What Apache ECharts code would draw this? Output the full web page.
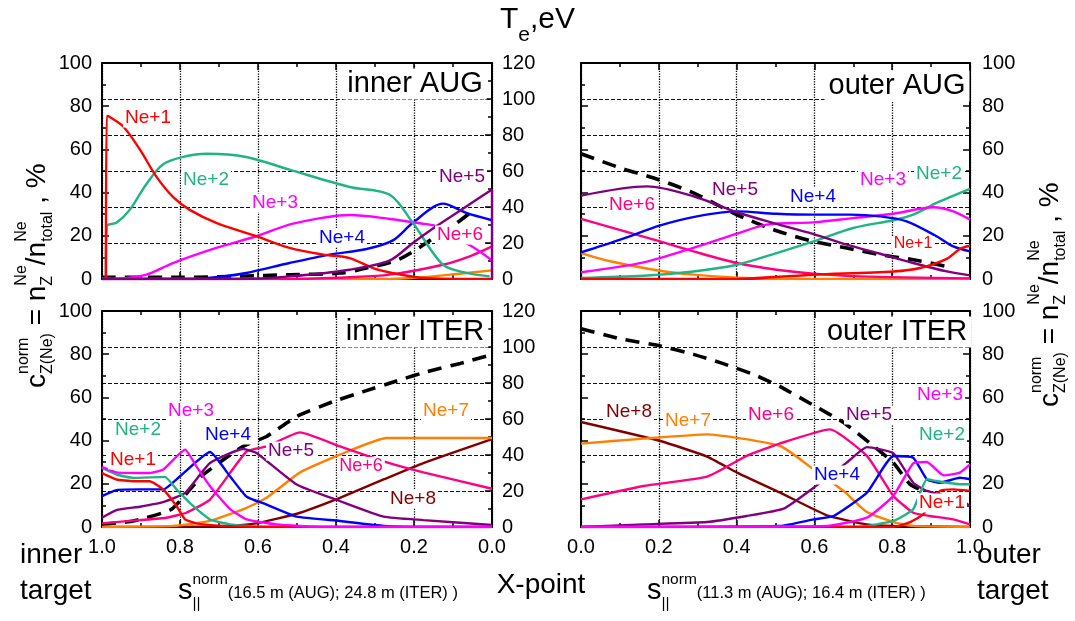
<!DOCTYPE html>
<html><head><meta charset="utf-8">
<script src="https://cdn.jsdelivr.net/npm/echarts@6/dist/echarts.min.js"></script>
<style>html,body{margin:0;padding:0;background:#fff}#c{width:1075px;height:621px}</style>
</head><body><div id="c"></div>
<script>
// ---------------- DATA (s_norm, value) ----------------
// inner AUG  (c in %, Te in eV)
const IA_NE1 = [[0.99,0],[0.988,75.5],[0.98,75],[0.946,70.7],[0.903,60],[0.861,47.5],[0.818,38],[0.775,32],[0.707,26],[0.604,19.8],[0.519,14.4],[0.433,11.3],[0.365,9.7],[0.305,5],[0.262,3],[0.177,0.5],[0,0]];
const IA_NE2 = [[0.99,0],[0.988,24.4],[0.963,26],[0.929,32],[0.886,44],[0.844,53],[0.792,56.5],[0.732,58],[0.63,56.5],[0.519,50.6],[0.365,42.6],[0.262,39],[0.203,26],[0.126,6.6],[0.066,2.8],[0.006,1.2]];
const IA_NE3 = [[1,0],[0.946,0.3],[0.886,2],[0.818,7.4],[0.707,14.4],[0.604,19.8],[0.51,25.6],[0.365,29.6],[0.262,27.8],[0.177,25.6],[0.143,24.4],[0.049,14.8],[0,8.6]];
const IA_NE4 = [[1,0],[0.775,0],[0.69,1.2],[0.63,2.8],[0.519,7.4],[0.416,11.3],[0.322,13.9],[0.254,17.9],[0.203,26],[0.126,34.9],[0.066,30.6],[0,27.2]];
const IA_NE5 = [[1,0],[0.647,0],[0.519,1.2],[0.365,4.3],[0.262,8.6],[0.203,16.7],[0.143,24.4],[0.091,30.6],[0,41.4],[0,0]];
const IA_NE6 = [[1,0],[0.519,0],[0.365,0.8],[0.262,2],[0.126,6.6],[0.057,10.5],[0,15.1]];
const IA_NE7 = [[1,0],[0.262,0],[0.177,0.8],[0.091,2.3],[0,4]];
const IA_TE  = [[1,0.9],[0.8,0.9],[0.647,1.5],[0.519,2.4],[0.39,3.3],[0.322,6.1],[0.237,11.1],[0.143,23.7],[0.091,31],[0.049,38]];
// outer AUG
const OA_NE1 = [[0,0],[0.375,0],[0.598,2],[0.803,3.5],[0.872,5.1],[0.94,9.3],[0.974,13.9],[1,15.4]];
const OA_NE2 = [[0,0.5],[0.161,1.5],[0.289,3.5],[0.401,6.6],[0.503,12],[0.598,17.4],[0.7,23.6],[0.803,27.2],[0.854,29.8],[0.914,35.2],[1,41.7]];
const OA_NE3 = [[0,3.1],[0.161,7.7],[0.289,14.4],[0.401,21],[0.478,25.2],[0.598,26.2],[0.7,28.2],[0.803,30.2],[0.906,33.2],[0.957,31.3],[1,27.5]];
const OA_NE4 = [[0,12.3],[0.101,18.2],[0.204,24.8],[0.298,29],[0.401,31.3],[0.503,30.2],[0.598,29.8],[0.692,29.8],[0.769,29],[0.837,26.7],[0.914,19.8],[0.957,15.1],[1,12.8]];
const OA_NE5 = [[0,38.6],[0.17,42.9],[0.289,38.3],[0.401,30.9],[0.495,25.9],[0.598,20.8],[0.683,15.9],[0.769,11.7],[0.854,7.4],[0.94,3.5],[1,1.7]];
const OA_NE6 = [[0,27.8],[0.187,18.2],[0.289,12.8],[0.401,7.4],[0.503,4.3],[0.598,2.5],[0.717,1.2],[1,0.3]];
const OA_NE7 = [[0,12],[0.075,8.2],[0.187,4.3],[0.289,2],[0.401,0.6],[0.546,0],[1,0]];
const OA_TE  = [[0,69.6],[0.101,61.7],[0.187,56.1],[0.289,47.8],[0.401,35.7],[0.495,27.4],[0.598,20.9],[0.683,17.2],[0.769,13.5],[0.854,10.7],[0.94,7]];
// inner ITER
const II_NE1 = [[1,25],[0.989,24],[0.963,22],[0.92,21.2],[0.878,21.2],[0.843,17.4],[0.809,9.7],[0.787,3.5],[0.758,1.7],[0.689,0.5],[0.604,0],[0,0]];
const II_NE2 = [[1,27.3],[0.963,24.3],[0.92,22.7],[0.839,23.2],[0.809,17.4],[0.775,11.2],[0.723,3.5],[0.672,1.2],[0.604,0.2],[0,0]];
const II_NE3 = [[1,27.8],[0.963,25.3],[0.878,25],[0.843,26.6],[0.787,35.8],[0.758,28.1],[0.723,18.9],[0.672,8.4],[0.629,3.5],[0.552,1.2],[0.432,0],[0,0]];
const II_NE4 = [[1,14.3],[0.963,17.1],[0.903,17.4],[0.843,17.4],[0.8,23.5],[0.723,34.7],[0.672,23.5],[0.629,14],[0.578,10.4],[0.501,4.8],[0.39,2.8],[0.278,0.5],[0.176,0],[0,0]];
const II_NE5 = [[1,4.3],[0.963,7.8],[0.903,9.4],[0.843,11.5],[0.787,15.8],[0.723,29.6],[0.638,36.1],[0.604,34.3],[0.501,19.7],[0.39,12],[0.278,4.8],[0.176,3.2],[0,0.9]];
const II_NE6 = [[1,1.7],[0.903,3.2],[0.835,4.3],[0.784,6.6],[0.723,12.7],[0.629,35],[0.578,37.3],[0.492,43.8],[0.39,37.3],[0.278,30.4],[0.176,25.3],[0,17.7]];
const II_NE7 = [[1,0],[0.818,0.5],[0.723,2.8],[0.629,8.9],[0.578,13.5],[0.492,25.3],[0.39,33.5],[0.27,41.2],[0,41.2]];
const II_NE8 = [[1,0],[0.689,0.2],[0.604,1.7],[0.492,6.6],[0.39,13.5],[0.278,22],[0.176,29.6],[0,40.7]];
const II_TE  = [[1,1.5],[0.92,3.3],[0.822,9.8],[0.745,28.2],[0.689,37.4],[0.638,44.8],[0.578,50.3],[0.501,61.4],[0.407,69.7],[0.33,75.2],[0.245,81.1],[0.167,86.3],[0.081,90.9],[0.004,95.5]];
// outer ITER
const OI_NE1 = [[0,0],[0.803,0],[0.846,2.3],[0.88,5.9],[0.923,16.7],[0.957,17.4],[1,16.7]];
const OI_NE2 = [[0,0],[0.717,0.2],[0.803,2.8],[0.854,8.2],[0.889,22.1],[0.914,21.3],[0.974,19.8],[1,19.8]];
const OI_NE3 = [[0,0],[0.632,0.5],[0.735,4.3],[0.803,14.4],[0.854,29.5],[0.889,30.1],[0.932,23.9],[0.974,25.2],[1,29]];
const OI_NE4 = [[0,0],[0.512,0.5],[0.598,3.5],[0.649,5.1],[0.735,15.9],[0.803,32.9],[0.854,32.1],[0.889,22.1],[0.923,20.5],[0.974,22.8],[1,22.1]];
const OI_NE5 = [[0,0],[0.161,1.2],[0.324,2.3],[0.426,5.1],[0.521,8.5],[0.598,18.2],[0.683,29.8],[0.735,37],[0.803,34.1],[0.854,20.5],[0.889,16.7],[0.974,12.8],[1,9.7]];
const OI_NE6 = [[0,12.8],[0.161,19],[0.324,23.3],[0.426,32.9],[0.512,38.7],[0.64,45.2],[0.735,32.9],[0.803,14.4],[0.854,6.6],[0.897,5.1],[0.957,3.5],[1,1.2]];
const OI_NE7 = [[0,38.6],[0.161,40.9],[0.324,42.9],[0.512,37.5],[0.598,26.7],[0.675,16.7],[0.735,6.9],[0.803,2.3],[0.854,0.5],[1,0]];
const OI_NE8 = [[0,48.6],[0.204,39.8],[0.324,32.6],[0.401,25.2],[0.512,15.9],[0.632,5.4],[0.735,1.2],[0.803,0.5],[1,0]];
const OI_TE  = [[0,110.2],[0.101,104.6],[0.204,100.6],[0.289,95.9],[0.358,91.3],[0.443,84.8],[0.512,78],[0.598,67.6],[0.675,58],[0.752,45],[0.803,35.7],[0.846,23.7],[0.88,20]];

const X_TICK_LABELS_FMT = 1; // decimals
const PANEL_NAMES = ['inner AUG','outer AUG','inner ITER','outer ITER'];

// ---------------- STYLE / LAYOUT ----------------
const FONT = '"Liberation Sans", Arial, sans-serif';
const COL = {ne1:'#ff0000', ne2:'#1fb386', ne3:'#ff00ff', ne4:'#0000ff', ne5:'#800080', ne6:'#ff0080', ne7:'#ff8000', ne8:'#800000'};
const GRIDS = [
  {left:102, top:63, width:390, height:216},
  {left:581, top:63, width:389, height:216},
  {left:102, top:311, width:390, height:216},
  {left:581, top:311, width:389, height:216}];
const INNER = [true,false,true,false];

const xAxis = [], yAxis = [], series = [];
const cIdx = [], teIdx = [];
const lineAx = {show:true, onZero:false, lineStyle:{color:'#000', width:2}};
const tick = {show:true, inside:true, length:7, lineStyle:{color:'#000', width:1.5}};
const minor = {show:true, splitNumber:2, length:4, lineStyle:{color:'#000', width:1.5}};
const lab = (show, m) => ({show, color:'#000', fontSize:20, fontFamily:FONT, margin:m});
const hSplit = {show:true, lineStyle:{color:'#111', width:1, type:[4,2]}};

GRIDS.forEach((g, i) => {
  xAxis.push({gridIndex:i, type:'value', min:0, max:1, interval:0.2, inverse:INNER[i], position:'bottom',
    axisLine:lineAx, axisTick:tick, minorTick:minor,
    axisLabel:Object.assign(lab(i>=2, 10), {formatter:v=>v.toFixed(X_TICK_LABELS_FMT)}),
    splitLine:{show:true, lineStyle:{color:'#000', width:1.3, type:'dotted'}}});
  xAxis.push({gridIndex:i, type:'value', min:0, max:1, interval:0.2, inverse:INNER[i], position:'top',
    axisLine:lineAx, axisTick:tick, minorTick:minor, axisLabel:{show:false}, splitLine:{show:false}});
  cIdx[i] = yAxis.length;
  yAxis.push({gridIndex:i, type:'value', min:0, max:100, interval:20, position:'left',
    axisLine:lineAx, axisTick:tick, minorTick:minor, axisLabel:lab(INNER[i], 10), splitLine:{show:false}});
  if (INNER[i]) {
    teIdx[i] = yAxis.length;
    yAxis.push({gridIndex:i, type:'value', min:0, max:120, interval:20, position:'right',
      axisLine:lineAx, axisTick:tick, minorTick:minor, axisLabel:lab(true, 10), splitLine:hSplit});
  } else {
    yAxis.push({gridIndex:i, type:'value', min:0, max:100, interval:20, position:'right',
      axisLine:lineAx, axisTick:tick, minorTick:minor, axisLabel:lab(true, 12), splitLine:{show:false}});
    teIdx[i] = yAxis.length;
    yAxis.push({gridIndex:i, type:'value', min:0, max:120, interval:20, position:'right',
      axisLine:{show:false}, axisTick:{show:false}, axisLabel:{show:false}, splitLine:hSplit});
  }
});

function addPanel(i, te, list, sm) {
  series.push({type:'line', data:te, xAxisIndex:2*i, yAxisIndex:teIdx[i], showSymbol:false, smooth:sm,
    lineStyle:{color:'#000', width:3.6, type:[14,9]}, z:2});
  list.forEach(([d, c]) => series.push({type:'line', data:d, xAxisIndex:2*i, yAxisIndex:cIdx[i], showSymbol:false,
    smooth:sm, lineStyle:{color:c, width:2.4}, z:3}));
}
addPanel(0, IA_TE, [[IA_NE7,COL.ne7],[IA_NE6,COL.ne6],[IA_NE4,COL.ne4],[IA_NE3,COL.ne3],[IA_NE2,COL.ne2],[IA_NE1,COL.ne1],[IA_NE5,COL.ne5]], 0.3);
addPanel(1, OA_TE, [[OA_NE7,COL.ne7],[OA_NE6,COL.ne6],[OA_NE2,COL.ne2],[OA_NE3,COL.ne3],[OA_NE4,COL.ne4],[OA_NE5,COL.ne5],[OA_NE1,COL.ne1]], 0.3);
addPanel(2, II_TE, [[II_NE8,COL.ne8],[II_NE7,COL.ne7],[II_NE6,COL.ne6],[II_NE5,COL.ne5],[II_NE4,COL.ne4],[II_NE2,COL.ne2],[II_NE1,COL.ne1],[II_NE3,COL.ne3]], 0.15);
addPanel(3, OI_TE, [[OI_NE8,COL.ne8],[OI_NE7,COL.ne7],[OI_NE6,COL.ne6],[OI_NE5,COL.ne5],[OI_NE4,COL.ne4],[OI_NE2,COL.ne2],[OI_NE1,COL.ne1],[OI_NE3,COL.ne3]], 0.15);

// ---------------- TEXT ----------------
const cv = document.createElement('canvas').getContext('2d');
function measure(t, s) { cv.font = s + 'px ' + FONT; return cv.measureText(t).width; }
function txt(p, x) {
  return {type:'text', x:x, y:(p.b||0) - 0.35*p.s, z:60,
    style:{text:p.t, font:p.s + 'px ' + FONT, fill:'#000', align:'left', verticalAlign:'middle'}};
}
function formula(parts, x, y, rot) {
  const ch = []; let cx = 0;
  for (let i = 0; i < parts.length; i++) {
    const p = parts[i]; let w = measure(p.t, p.s); ch.push(txt(p, cx));
    if (parts[i+1] && parts[i+1].stack) { const q = parts[i+1]; w = Math.max(w, measure(q.t, q.s)); ch.push(txt(q, cx)); i++; }
    cx += w;
  }
  return {type:'group', x:x, y:y, rotation:rot||0, z:60, children:ch};
}
const yTitle = [{t:'c',s:28},{t:'norm',s:16,b:-18},{t:'Z(Ne)',s:16,b:6,stack:true},{t:' = ',s:28},{t:'n',s:28},
  {t:'Ne',s:16,b:-20},{t:'Z',s:16,b:6,stack:true},{t:'/n',s:28},{t:'Ne',s:16,b:-20},{t:'total',s:16,b:6,stack:true},{t:' , %',s:28}];

function lbl(t, x, y, c, s, pad) {
  return {type:'text', x:x, y:y, z:50, style:{text:t, fill:c, font:s + 'px ' + FONT, align:'center', verticalAlign:'middle',
    backgroundColor:'#fff', padding:pad || [0,2]}};
}
const graphic = [
  formula([{t:'T',s:30},{t:'e',s:21,b:13},{t:',eV',s:30}], 500, 30),
  formula(yTitle, 47, 388, Math.PI/2),
  formula(yTitle, 1060, 407, Math.PI/2),
  formula([{t:'s',s:29},{t:'norm',s:15.5,b:-16},{t:'||',s:15.5,b:8,stack:true},{t:'(16.5 m (AUG); 24.8 m (ITER) )',s:16.5,b:-1.5}], 178, 601),
  formula([{t:'s',s:29},{t:'norm',s:15.5,b:-16},{t:'||',s:15.5,b:8,stack:true},{t:'(11.3 m (AUG); 16.4 m (ITER) )',s:16.5,b:-1.5}], 647, 601),
  {type:'text', x:20, y:555, style:{text:'inner', font:'28px ' + FONT, fill:'#000', align:'left', verticalAlign:'middle'}},
  {type:'text', x:20, y:591, style:{text:'target', font:'28px ' + FONT, fill:'#000', align:'left', verticalAlign:'middle'}},
  {type:'text', x:977, y:555, style:{text:'outer', font:'28px ' + FONT, fill:'#000', align:'left', verticalAlign:'middle'}},
  {type:'text', x:977, y:591, style:{text:'target', font:'28px ' + FONT, fill:'#000', align:'left', verticalAlign:'middle'}},
  {type:'text', x:541, y:585, style:{text:'X-point', font:'28px ' + FONT, fill:'#000', align:'center', verticalAlign:'middle'}},
  lbl(PANEL_NAMES[0], 415, 84, '#000', 29, [1,4]),
  lbl(PANEL_NAMES[1], 897, 86, '#000', 29, [1,4]),
  lbl(PANEL_NAMES[2], 415, 332, '#000', 29, [1,4]),
  lbl(PANEL_NAMES[3], 897, 332, '#000', 29, [1,4]),
  // inner AUG
  lbl('Ne+1', 148, 118, COL.ne1, 19), lbl('Ne+2', 206, 180, COL.ne2, 19), lbl('Ne+3', 275, 203, COL.ne3, 19),
  lbl('Ne+4', 342, 238, COL.ne4, 19), lbl('Ne+5', 462, 177, COL.ne5, 19), lbl('Ne+6', 460, 235, COL.ne6, 19),
  // outer AUG
  lbl('Ne+6', 632, 205, COL.ne6, 19), lbl('Ne+5', 735, 190, COL.ne5, 19), lbl('Ne+4', 813, 197, COL.ne4, 19),
  lbl('Ne+3', 883, 180, COL.ne3, 19), lbl('Ne+2', 939, 174, COL.ne2, 19), lbl('Ne+1', 913, 244, COL.ne1, 16),
  // inner ITER
  lbl('Ne+2', 138, 430, COL.ne2, 19), lbl('Ne+3', 191, 411, COL.ne3, 19), lbl('Ne+4', 228, 435, COL.ne4, 19),
  lbl('Ne+1', 133, 460, COL.ne1, 19), lbl('Ne+5', 291, 451, COL.ne5, 19), lbl('Ne+6', 361, 466, COL.ne6, 18),
  lbl('Ne+7', 446, 411, COL.ne7, 19), lbl('Ne+8', 413, 499, COL.ne8, 19),
  // outer ITER
  lbl('Ne+8', 629, 412, COL.ne8, 19), lbl('Ne+7', 688, 421, COL.ne7, 19), lbl('Ne+6', 771, 415, COL.ne6, 19),
  lbl('Ne+5', 869, 415, COL.ne5, 19), lbl('Ne+3', 940, 395, COL.ne3, 19), lbl('Ne+2', 942, 435, COL.ne2, 19),
  lbl('Ne+4', 837, 475, COL.ne4, 19), lbl('Ne+1', 942, 503, COL.ne1, 19)
];

const chart = echarts.init(document.getElementById('c'), null, {renderer:'canvas'});
chart.setOption({
  animation:false, backgroundColor:'#fff',
  textStyle:{fontFamily:FONT},
  grid:GRIDS.map(g => Object.assign({show:false, containLabel:false}, g)),
  xAxis, yAxis, series, graphic
});
</script></body></html>
